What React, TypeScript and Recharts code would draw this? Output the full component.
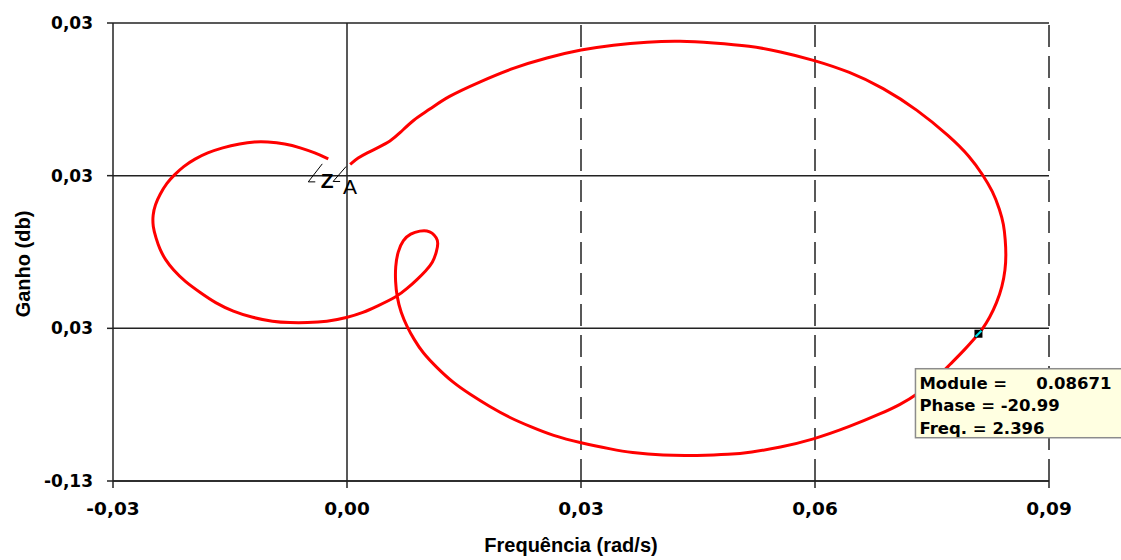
import { LineChart, Line, XAxis, YAxis, CartesianGrid, ReferenceLine, ReferenceDot, Label } from "recharts";

// curve, in order from A to Z
const frequencia = [
  0.0004, 0.0014, 0.0026, 0.0042, 0.0055, 0.0068, 0.0085, 0.0106, 0.0128, 0.0171,
  0.0213, 0.0256, 0.0301, 0.0341, 0.0385, 0.0427, 0.0469, 0.0517, 0.0555, 0.0597,
  0.0645, 0.0687, 0.0731, 0.0773, 0.0799, 0.0815, 0.0828, 0.0837, 0.0842, 0.0844,
  0.0845, 0.0844, 0.084, 0.0833, 0.0824, 0.0814, 0.0809, 0.0792, 0.0773, 0.0754,
  0.0731, 0.0709, 0.0687, 0.0645, 0.0597, 0.0555, 0.0517, 0.0491, 0.0449, 0.0405,
  0.0363, 0.0341, 0.0299, 0.0264, 0.0235, 0.0209, 0.0183, 0.0158, 0.0136, 0.0115,
  0.0097, 0.0086, 0.0077, 0.0069, 0.0064, 0.0062, 0.0062, 0.0065, 0.0072, 0.0081,
  0.0094, 0.0103, 0.0109, 0.0115, 0.0117, 0.0115, 0.011, 0.0101, 0.009, 0.0077,
  0.0064, 0.0038, 0.0021, 0.0, -0.0026, -0.0051, -0.0073, -0.0095, -0.0121, -0.0146,
  -0.0169, -0.0188, -0.0208, -0.0223, -0.0233, -0.024, -0.0245, -0.0249, -0.0249, -0.0246,
  -0.024, -0.0231, -0.0221, -0.021, -0.0195, -0.0179, -0.016, -0.0137, -0.0118, -0.0103,
  -0.0079, -0.006, -0.0041, -0.0024,
];

const ganho = [
  0.0022, 0.0035, 0.0045, 0.0057, 0.0067, 0.0084, 0.011, 0.013, 0.0155, 0.0185,
  0.0212, 0.0232, 0.0248, 0.0257, 0.0263, 0.0265, 0.0261, 0.0255, 0.0244, 0.0228,
  0.0204, 0.0173, 0.013, 0.0077, 0.0037, 0.0002, -0.0031, -0.0067, -0.0096, -0.0126,
  -0.0155, -0.0185, -0.0218, -0.025, -0.0279, -0.0303, -0.0312, -0.0342, -0.0371, -0.0401,
  -0.043, -0.045, -0.0466, -0.0493, -0.0519, -0.0534, -0.0544, -0.0548, -0.055, -0.055,
  -0.0544, -0.0538, -0.0525, -0.0511, -0.0493, -0.0476, -0.0454, -0.043, -0.0407, -0.0377,
  -0.0348, -0.0322, -0.0297, -0.0269, -0.0238, -0.0208, -0.0179, -0.0149, -0.0126, -0.0114,
  -0.0108, -0.0108, -0.0112, -0.0122, -0.0132, -0.0149, -0.0171, -0.0187, -0.0204, -0.0222,
  -0.0238, -0.0257, -0.0269, -0.0279, -0.0287, -0.0289, -0.0289, -0.0287, -0.0279, -0.0267,
  -0.025, -0.023, -0.0208, -0.0185, -0.0165, -0.0145, -0.0122, -0.01, -0.0077, -0.0057,
  -0.0037, -0.0014, 0.0002, 0.0018, 0.0033, 0.0045, 0.0055, 0.0063, 0.0067, 0.0067,
  0.0063, 0.0055, 0.0045, 0.0033,
];

const xTicks = [-0.03, 0, 0.03, 0.06, 0.09];
const xTickLabels = ["-0,03", "0,00", "0,03", "0,06", "0,09"];
const yTicks = [-0.06, -0.03, 0, 0.03];
const yTickLabels = ["-0,13", "0,03", "0,03", "0,03"];
const dashedX = [0.03, 0.06, 0.09];

// selected point shown in the hint box
const selModule = 0.08671;
const selPhase = -20.99;
const selFreq = 2.396;
const selX = selModule * Math.cos((selPhase * Math.PI) / 180);
const selY = selModule * Math.sin((selPhase * Math.PI) / 180);

const data = frequencia.map((x, i) => ({ x, y: ganho[i] }));

const tickFont = { fontFamily: "DejaVu Sans", fontWeight: "bold", fill: "#000" };

const EndDot = (props: any) => {
  const { cx, cy, index } = props;
  if (index === 0) {
    return (
      <g key="a">
        <polyline points={`${cx - 10},${cy + 17} ${cx - 17},${cy + 17} ${cx - 4},${cy + 2}`} fill="none" stroke="#000" strokeWidth={1} />
        <text x={cx} y={cy + 30} textAnchor="middle" fontFamily="Liberation Sans" fontSize={21} fill="#000">A</text>
      </g>
    );
  }
  if (index === data.length - 1) {
    return (
      <g key="z">
        <polyline points={`${cx - 13},${cy + 23} ${cx - 20},${cy + 23} ${cx - 6},${cy + 5}`} fill="none" stroke="#000" strokeWidth={1} />
        <text x={cx - 1} y={cy + 29} textAnchor="middle" fontFamily="Liberation Sans" fontWeight="bold" fontSize={21} fill="#000">Z</text>
      </g>
    );
  }
  return <g key={index} />;
};

const HintBox = (props: any) => {
  const { cx, cy } = props;
  const bx = cx - 63;
  const by = cy + 35;
  const f = { fontFamily: "DejaVu Sans", fontWeight: "bold", fontSize: 16.5, fill: "#000" };
  return (
    <g>
      <rect x={cx - 4} y={cy - 4} width={8} height={8} fill="#000" />
      <line x1={cx - 3} y1={cy + 3} x2={cx + 3} y2={cy - 3} stroke="#00e5ee" strokeWidth={2} />
      <rect x={bx} y={by} width={210} height={69} fill="#ffffe1" stroke="#8c8c8c" strokeWidth={1.5} />
      <text x={bx + 4} y={by + 20} {...f}>Module =</text>
      <text x={bx + 196} y={by + 20} textAnchor="end" {...f}>{selModule.toFixed(5)}</text>
      <text x={bx + 4} y={by + 42} {...f}>{`Phase = ${selPhase}`}</text>
      <text x={bx + 4} y={by + 65} {...f}>{`Freq. = ${selFreq}`}</text>
    </g>
  );
};

const YTitle = (props: any) => {
  const { viewBox } = props;
  const x = viewBox.x + 30;
  const y = 264;
  return (
    <text x={x} y={y} transform={`rotate(-90, ${x}, ${y})`} textAnchor="middle" fontFamily="Liberation Sans" fontWeight="bold" fontSize={20} fill="#000">
      Ganho (db)
    </text>
  );
};

export default function App() {
  return (
    <div style={{ position: "absolute", left: 0, top: 0, width: 1121, height: 560, background: "#fff" }}>
      <LineChart width={1121} height={560} data={data} margin={{ top: 23, right: 72, left: 0, bottom: 0 }}>
        <CartesianGrid vertical={false} stroke="#222" strokeWidth={1.5} />
        {dashedX.map(v => (
          <ReferenceLine key={v} x={v} stroke="#222" strokeWidth={1.5} strokeDasharray="22 9" />
        ))}
        <ReferenceLine x={0} stroke="#222" strokeWidth={1.5} />
        <XAxis
          type="number"
          dataKey="x"
          domain={[-0.03, 0.09]}
          ticks={xTicks}
          tickFormatter={(_v: number, i: number) => xTickLabels[i]}
          allowDataOverflow
          height={79}
          stroke="#222"
          strokeWidth={1.5}
          tickSize={7}
          tickMargin={14}
          tick={{ ...tickFont, fontSize: 18.5 }}
        >
          <Label value="Frequência (rad/s)" position="insideBottom" offset={8} dx={-10} style={{ fontFamily: "Liberation Sans", fontWeight: "bold", fontSize: 20, fill: "#000" }} />
        </XAxis>
        <YAxis
          type="number"
          domain={[-0.06, 0.03]}
          ticks={yTicks}
          tickFormatter={(_v: number, i: number) => yTickLabels[i]}
          allowDataOverflow
          width={113}
          stroke="#222"
          strokeWidth={1.5}
          tickSize={6}
          tickMargin={14}
          tick={{ ...tickFont, fontSize: 17 }}
          label={<YTitle />}
        />
        <Line type="basis" dataKey="y" stroke="#ff0000" strokeWidth={3} dot={EndDot} activeDot={false} isAnimationActive={false} />
        <ReferenceDot x={selX} y={selY} r={4} shape={HintBox} />
      </LineChart>
    </div>
  );
}
